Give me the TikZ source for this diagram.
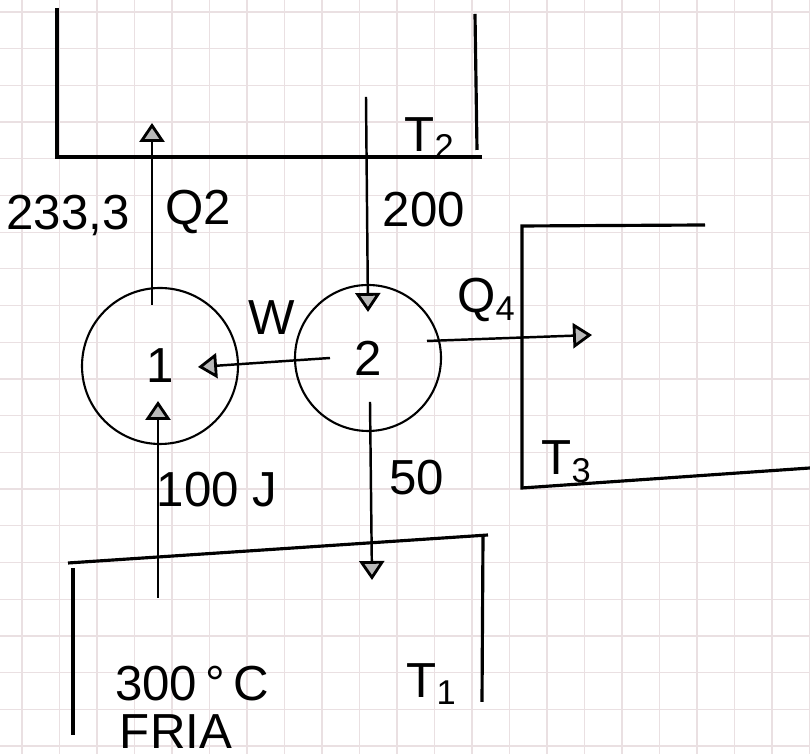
\documentclass[tikz,border=0pt]{standalone}
\usepackage{fontspec}
\setmainfont{Liberation Sans}
\usepackage{xcolor}
\usepackage{tikz}
\usetikzlibrary{arrows.meta}

\definecolor{gridline}{RGB}{234,224,226}

\begin{document}
\begin{tikzpicture}[
    x=0.1mm,
    y=-0.1mm,
    font=\fontsize{14}{16}\selectfont,
    >={Triangle[open, length=1.9mm, width=2.5mm, fill=gray!55, line width=0.8pt]},
    line width=0.7pt,
    wall/.style={
        line width=0.9pt,
    },
    engine/.style={
        draw,
        circle,
        line width=0.6pt,
        minimum size=#1,
        inner sep=0pt
    },
    paper/.style={
        line width=0.35pt,
        color=gridline
    }
]

\useasboundingbox (0,0) rectangle (810,754);

% =========================================================
% graph paper
% =========================================================
\foreach \gx in {0,...,21} {
    \draw[paper] (22+37.5*\gx,0) -- (22+37.5*\gx,754);
}
\foreach \gy in {0,...,20} {
    \draw[paper] (0,12+36.7*\gy) -- (810,12+36.7*\gy);
}

% =========================================================
% reservoirs
% =========================================================
% hot reservoir T2 (top)
\draw[wall] (57,8) -- (57,157) -- (482,157);
\draw[wall] (475,14) -- (477,150);
\node (t2) at (430,138) {T\textsubscript{2}};

% reservoir T3 (right)
\draw[wall] (705,225) -- (522,226) -- (522,488) -- (810,468);
\node (t3) at (567,462) {T\textsubscript{3}};

% cold reservoir T1 (bottom)
\draw[wall] (68,563) -- (488,535);
\draw[wall] (73,568) -- (73,735);
\draw[wall] (483,537) -- (482,702);
\node (t1) at (432,684) {T\textsubscript{1}};
\node (temp) at (192,684) {300\,°\,C};
\node[inner sep=0pt] (fria) at (176,732) {FRIA};

% =========================================================
% engines
% =========================================================
\node[engine=15.6mm] (c1) at (160,366) {1};
\node[engine=14.6mm] (c2) at (368,358) {2};

% connector ends
\coordinate (q2s) at (152,305);
\coordinate (q2e) at (152,123);
\coordinate (hots) at (366,97);
\coordinate (hote) at (368,312);
\coordinate (ws) at (330,358);
\coordinate (we) at (198,367);
\coordinate (q4s) at (427,341);
\coordinate (q4e) at (592,335);
\coordinate (cos) at (370,402);
\coordinate (coe) at (372,580);
\coordinate (cis) at (158,598);
\coordinate (cie) at (158,401);

% heat and work flows
\draw[->] (q2s) -- (q2e);
\draw[->] (hots) -- (hote);
\draw[->] (ws) -- (we);
\draw[->] (q4s) -- (q4e);
\draw[->] (cos) -- (coe);
\draw[->] (cis) -- (cie);

% labels
\node (lq2val) at (68,215) {233,3};
\node (lq2) at (198,212) {Q2};
\node (l200) at (424,210) {200};
\node (lw) at (272,318) {W};
\node (lq4) at (487,300) {Q\textsubscript{4}};
\node (l50) at (417,478) {50};
\node (l100) at (217,490) {100 J};

\end{tikzpicture}
\end{document}
